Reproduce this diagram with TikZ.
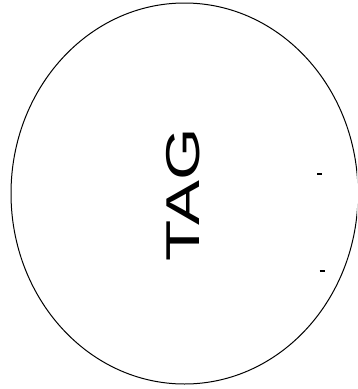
\documentclass[tikz,border=0pt]{standalone}
\usepackage{fontspec}
\setmainfont{Liberation Sans}
\usetikzlibrary{shapes.geometric}
\tikzset{
  outline/.style={draw, ellipse, line width=1pt, inner sep=0pt, minimum width=347pt, minimum height=381pt},
  tagtext/.style={inner sep=0pt, rotate=90, font=\fontsize{47.5}{50}\selectfont},
  tick/.style={line width=1.4pt}
}
\begin{document}
\begin{tikzpicture}[x=1pt,y=-1pt]
\useasboundingbox (0,0) rectangle (357,389);
\begin{scope}
\clip (0,0) rectangle (357,389);
\node[outline] (tag) at (184.5,193.5) {};
\end{scope}
\node[tagtext] (label) at (183,195) {\scalebox{1.42}[1]{TAG}};
\coordinate (t1a) at (317,174);
\coordinate (t1b) at (322,174);
\coordinate (t2a) at (319.5,271);
\coordinate (t2b) at (324.5,271);
\draw[tick] (t1a) -- (t1b);
\draw[tick] (t2a) -- (t2b);
\end{tikzpicture}
\end{document}
